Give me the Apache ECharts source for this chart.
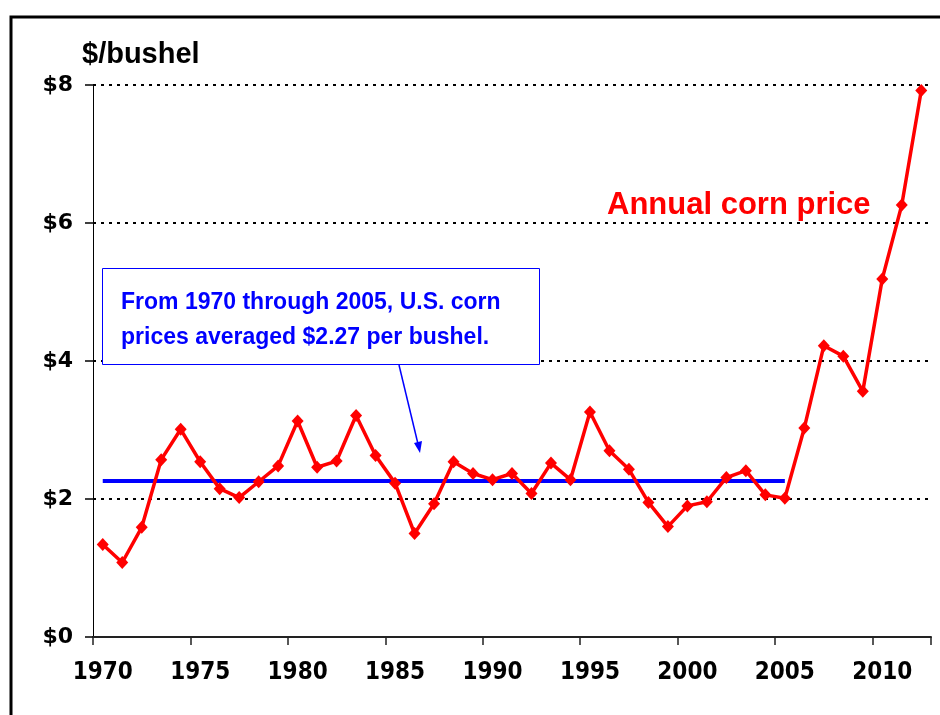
<!DOCTYPE html>
<html>
<head>
<meta charset="utf-8">
<script src="https://cdn.jsdelivr.net/npm/echarts@6/dist/echarts.min.js"></script>
<style>
html,body{margin:0;padding:0;background:#fff;}
#chart{width:940px;height:715px;}
</style>
</head>
<body>
<div id="chart"></div>
<script>
const years = ['1970','1971','1972','1973','1974','1975','1976','1977','1978','1979',
  '1980','1981','1982','1983','1984','1985','1986','1987','1988','1989',
  '1990','1991','1992','1993','1994','1995','1996','1997','1998','1999',
  '2000','2001','2002','2003','2004','2005','2006','2007','2008','2009',
  '2010','2011','2012'];
const cornPrice = [1.34,1.08,1.59,2.57,3.01,2.54,2.15,2.02,2.25,2.48,
  3.13,2.46,2.55,3.21,2.63,2.23,1.50,1.93,2.54,2.37,
  2.28,2.37,2.08,2.52,2.28,3.26,2.70,2.43,1.95,1.60,
  1.90,1.96,2.31,2.41,2.06,2.01,3.03,4.22,4.07,3.56,
  5.19,6.26,7.92];
const avgStart = '1970';
const avgEnd = '2005';
const avgPrice = 2.27;
const yTicks = [0, 2, 4, 6, 8];
const seriesName = 'Annual corn price';
const yAxisTitle = '$/bushel';
const noteLines = ['From 1970 through 2005, U.S. corn', 'prices averaged $2.27 per bushel.'];

const chart = echarts.init(document.getElementById('chart'), null, {renderer: 'canvas'});
const option = {
  animation: false,
  backgroundColor: '#ffffff',
  grid: {left: 93, right: 9, top: 85, bottom: 78, containLabel: false},
  xAxis: {
    type: 'category',
    data: years,
    boundaryGap: true,
    axisLine: {show: true, lineStyle: {color: '#222', width: 2}},
    axisTick: {show: true, interval: 4, length: 8, lineStyle: {color: '#222', width: 1.5}},
    axisLabel: {interval: 4, margin: 24, color: '#000', fontFamily: 'DejaVu Sans Condensed',
      fontWeight: 'bold', fontSize: 24},
    splitLine: {show: false}
  },
  yAxis: {
    type: 'value',
    min: yTicks[0], max: yTicks[yTicks.length - 1], interval: 2,
    axisLine: {show: true, lineStyle: {color: '#000', width: 1}},
    axisTick: {show: true, length: 8, lineStyle: {color: '#000', width: 1.5}},
    axisLabel: {margin: 20, color: '#000', fontFamily: 'DejaVu Sans', fontWeight: 'bold', fontSize: 22,
      formatter: v => '$' + v},
    splitLine: {show: true, lineStyle: {color: '#000', width: 2, type: [3, 5]}}
  },
  series: [{
    name: seriesName,
    type: 'line',
    data: cornPrice,
    symbol: 'diamond',
    symbolSize: [12, 13],
    showAllSymbol: true,
    lineStyle: {color: '#ff0000', width: 3.5},
    itemStyle: {color: '#ff0000'},
    z: 3,
    markLine: {
      silent: true,
      symbol: ['none', 'none'],
      label: {show: false},
      lineStyle: {color: '#0000ff', width: 4, type: 'solid'},
      data: [[{coord: [avgStart, avgPrice]}, {coord: [avgEnd, avgPrice]}]],
      z: 2
    }
  }],
  graphic: [
    {type: 'rect', shape: {x: 11, y: 17, width: 1000, height: 1000},
      style: {fill: 'none', stroke: '#000', lineWidth: 3}, z: 1},
    {type: 'text', left: 82, top: 40,
      style: {text: yAxisTitle, fill: '#000', font: 'bold 29px "Liberation Sans", Arial, sans-serif'}},
    {type: 'text', left: 607, top: 190,
      style: {text: seriesName, fill: '#ff0000', font: 'bold 31px "Liberation Sans", Arial, sans-serif'}},
    {type: 'rect', shape: {x: 102.5, y: 268.5, width: 437, height: 96},
      style: {fill: '#ffffff', stroke: '#0000ff', lineWidth: 1}, z: 10},
    {type: 'text', x: 121, y: 285, z: 11,
      style: {text: noteLines.join('\n'), fill: '#0000ff', lineHeight: 35,
        font: 'bold 23px "Liberation Sans", Arial, sans-serif'}},
    {type: 'line', shape: {x1: 399, y1: 365, x2: 418, y2: 444},
      style: {stroke: '#0000ff', lineWidth: 1.5}, z: 10},
    {type: 'polygon', shape: {points: [[420, 453], [414, 443], [422, 441]]},
      style: {fill: '#0000ff'}, z: 10}
  ]
};
chart.setOption(option);
</script>
</body>
</html>
